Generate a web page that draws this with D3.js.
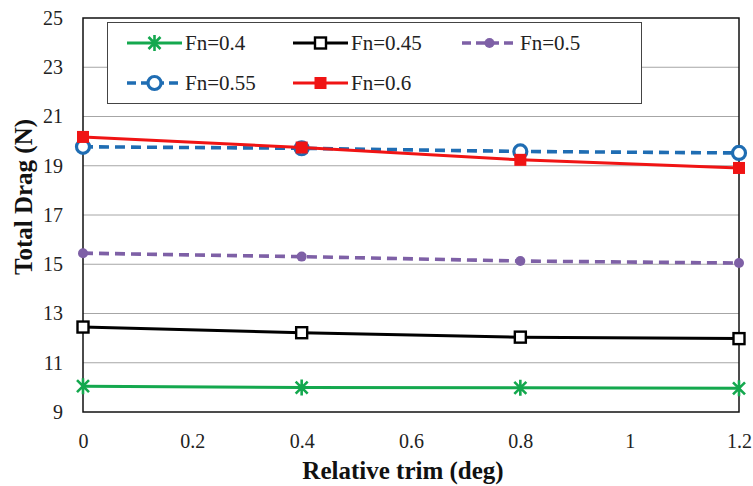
<!DOCTYPE html>
<html>
<head>
<meta charset="utf-8">
<script src="https://cdn.jsdelivr.net/npm/d3@7"></script>
<style>
  html, body { margin: 0; padding: 0; background: #fff; }
  svg text { font-family: "Liberation Serif", "Times New Roman", Times, "DejaVu Serif", "Noto Serif", serif !important; }
</style>
</head>
<body>
<svg id="chart" width="753" height="486"></svg>
<script>
// Relative trim angles (deg)
const trim = [0, 0.4, 0.8, 1.2];

// Total drag (N) for each Froude number
const fn040 = [10.05, 9.99, 9.98, 9.96];
const fn045 = [12.45, 12.22, 12.04, 11.98];
const fn050 = [15.45, 15.31, 15.13, 15.05];
const fn055 = [19.77, 19.71, 19.58, 19.52];
const fn060 = [20.17, 19.74, 19.24, 18.91];

const seriesNames = ["Fn=0.4", "Fn=0.45", "Fn=0.5", "Fn=0.55", "Fn=0.6"];

const xTicks = [0, 0.2, 0.4, 0.6, 0.8, 1, 1.2];
const yTicks = [9, 11, 13, 15, 17, 19, 21, 23, 25];

const xTitle = "Relative trim (deg)";
const yTitle = "Total Drag (N)";

const series = [
  { name: seriesNames[0], values: fn040, color: "#14a84e", dash: null, marker: "star" },
  { name: seriesNames[1], values: fn045, color: "#000000", dash: null, marker: "openSquare" },
  { name: seriesNames[2], values: fn050, color: "#7e60a6", dash: "10,6", marker: "dot" },
  { name: seriesNames[3], values: fn055, color: "#1f6db3", dash: "10,6", marker: "openCircle" },
  { name: seriesNames[4], values: fn060, color: "#f01414", dash: null, marker: "square" }
];

const W = 753, H = 486;
const margin = { top: 18, right: 14, bottom: 74, left: 83 };
const innerW = W - margin.left - margin.right;
const innerH = H - margin.top - margin.bottom;

const svg = d3.select("#chart");
const g = svg.append("g").attr("transform", `translate(${margin.left},${margin.top})`);

const x = d3.scaleLinear().domain([0, 1.2]).range([0, innerW]);
const y = d3.scaleLinear().domain([9, 25]).range([innerH, 0]);

// Horizontal gridlines
g.append("g")
  .selectAll("line")
  .data(yTicks.slice(1, -1))
  .join("line")
  .attr("x1", 0).attr("x2", innerW)
  .attr("y1", d => y(d)).attr("y2", d => y(d))
  .attr("stroke", "#a6a6a6").attr("stroke-width", 1);

// Axes with tick labels only (frame drawn separately)
const xAxis = g.append("g")
  .attr("transform", `translate(0,${innerH})`)
  .call(d3.axisBottom(x).tickValues(xTicks).tickSize(0).tickPadding(22).tickFormat(d3.format("~g")));
xAxis.attr("font-family", null);
xAxis.select(".domain").remove();
xAxis.selectAll("text").attr("font-size", 20).attr("fill", "#222");

const yAxis = g.append("g")
  .call(d3.axisLeft(y).tickValues(yTicks).tickSize(0).tickPadding(20).tickFormat(d3.format("~g")));
yAxis.attr("font-family", null);
yAxis.select(".domain").remove();
yAxis.selectAll("text").attr("font-size", 20).attr("fill", "#222");

// Plot frame
g.append("rect")
  .attr("x", 0).attr("y", 0).attr("width", innerW).attr("height", innerH)
  .attr("fill", "none").attr("stroke", "#111").attr("stroke-width", 1.5);

// Marker drawing
function drawMarker(sel, s) {
  if (s.marker === "star") {
    sel.append("path")
      .attr("d", "M-6,-6L6,6M-6,6L6,-6M0,-8L0,8")
      .attr("stroke", s.color).attr("stroke-width", 2.6).attr("fill", "none");
  } else if (s.marker === "openSquare") {
    sel.append("rect")
      .attr("x", -5.5).attr("y", -5.5).attr("width", 11).attr("height", 11)
      .attr("fill", "#fff").attr("stroke", s.color).attr("stroke-width", 2.4);
  } else if (s.marker === "dot") {
    sel.append("circle").attr("r", 5).attr("fill", s.color);
  } else if (s.marker === "openCircle") {
    sel.append("circle").attr("r", 6.5)
      .attr("fill", "#fff").attr("stroke", s.color).attr("stroke-width", 3.2);
  } else if (s.marker === "square") {
    sel.append("rect")
      .attr("x", -6).attr("y", -6).attr("width", 12).attr("height", 12)
      .attr("fill", s.color);
  }
}

const line = d3.line().x((d, i) => x(trim[i])).y(d => y(d));

series.forEach(s => {
  const sg = g.append("g");
  sg.append("path")
    .attr("d", line(s.values))
    .attr("fill", "none")
    .attr("stroke", s.color)
    .attr("stroke-width", s.dash ? 3.6 : 3)
    .attr("stroke-dasharray", s.dash);
  s.values.forEach((v, i) => {
    const m = sg.append("g").attr("transform", `translate(${x(trim[i])},${y(v)})`);
    drawMarker(m, s);
  });
});

// Legend
const leg = svg.append("g");
leg.append("rect")
  .attr("x", 107.5).attr("y", 22.5).attr("width", 534).attr("height", 81)
  .attr("fill", "#fff").attr("stroke", "#444").attr("stroke-width", 1);

const legendPos = [
  { lx: 127, ty: 43 }, { lx: 293, ty: 43 }, { lx: 462, ty: 43 },
  { lx: 127, ty: 83 }, { lx: 293, ty: 83 }
];
series.forEach((s, i) => {
  const p = legendPos[i];
  const it = leg.append("g").attr("transform", `translate(${p.lx},${p.ty})`);
  it.append("line")
    .attr("x1", 0).attr("x2", 55).attr("y1", 0).attr("y2", 0)
    .attr("stroke", s.color)
    .attr("stroke-width", s.dash ? 3.6 : 3)
    .attr("stroke-dasharray", s.dash ? "9,5" : null);
  const m = it.append("g").attr("transform", "translate(27.5,0)");
  drawMarker(m, s);
  it.append("text")
    .attr("x", 58).attr("y", 7)
    .attr("font-size", 21)
    .attr("fill", "#222")
    .text(s.name);
});

// Axis titles
svg.append("text")
  .attr("x", margin.left + innerW / 2 - 8)
  .attr("y", 479)
  .attr("text-anchor", "middle")
  .attr("font-size", 25)
  .attr("font-weight", "bold")
  .attr("fill", "#111")
  .text(xTitle);

svg.append("text")
  .attr("transform", "translate(32,197) rotate(-90)")
  .attr("text-anchor", "middle")
  .attr("font-size", 25)
  .attr("font-weight", "bold")
  .attr("fill", "#111")
  .text(yTitle);
</script>
</body>
</html>
